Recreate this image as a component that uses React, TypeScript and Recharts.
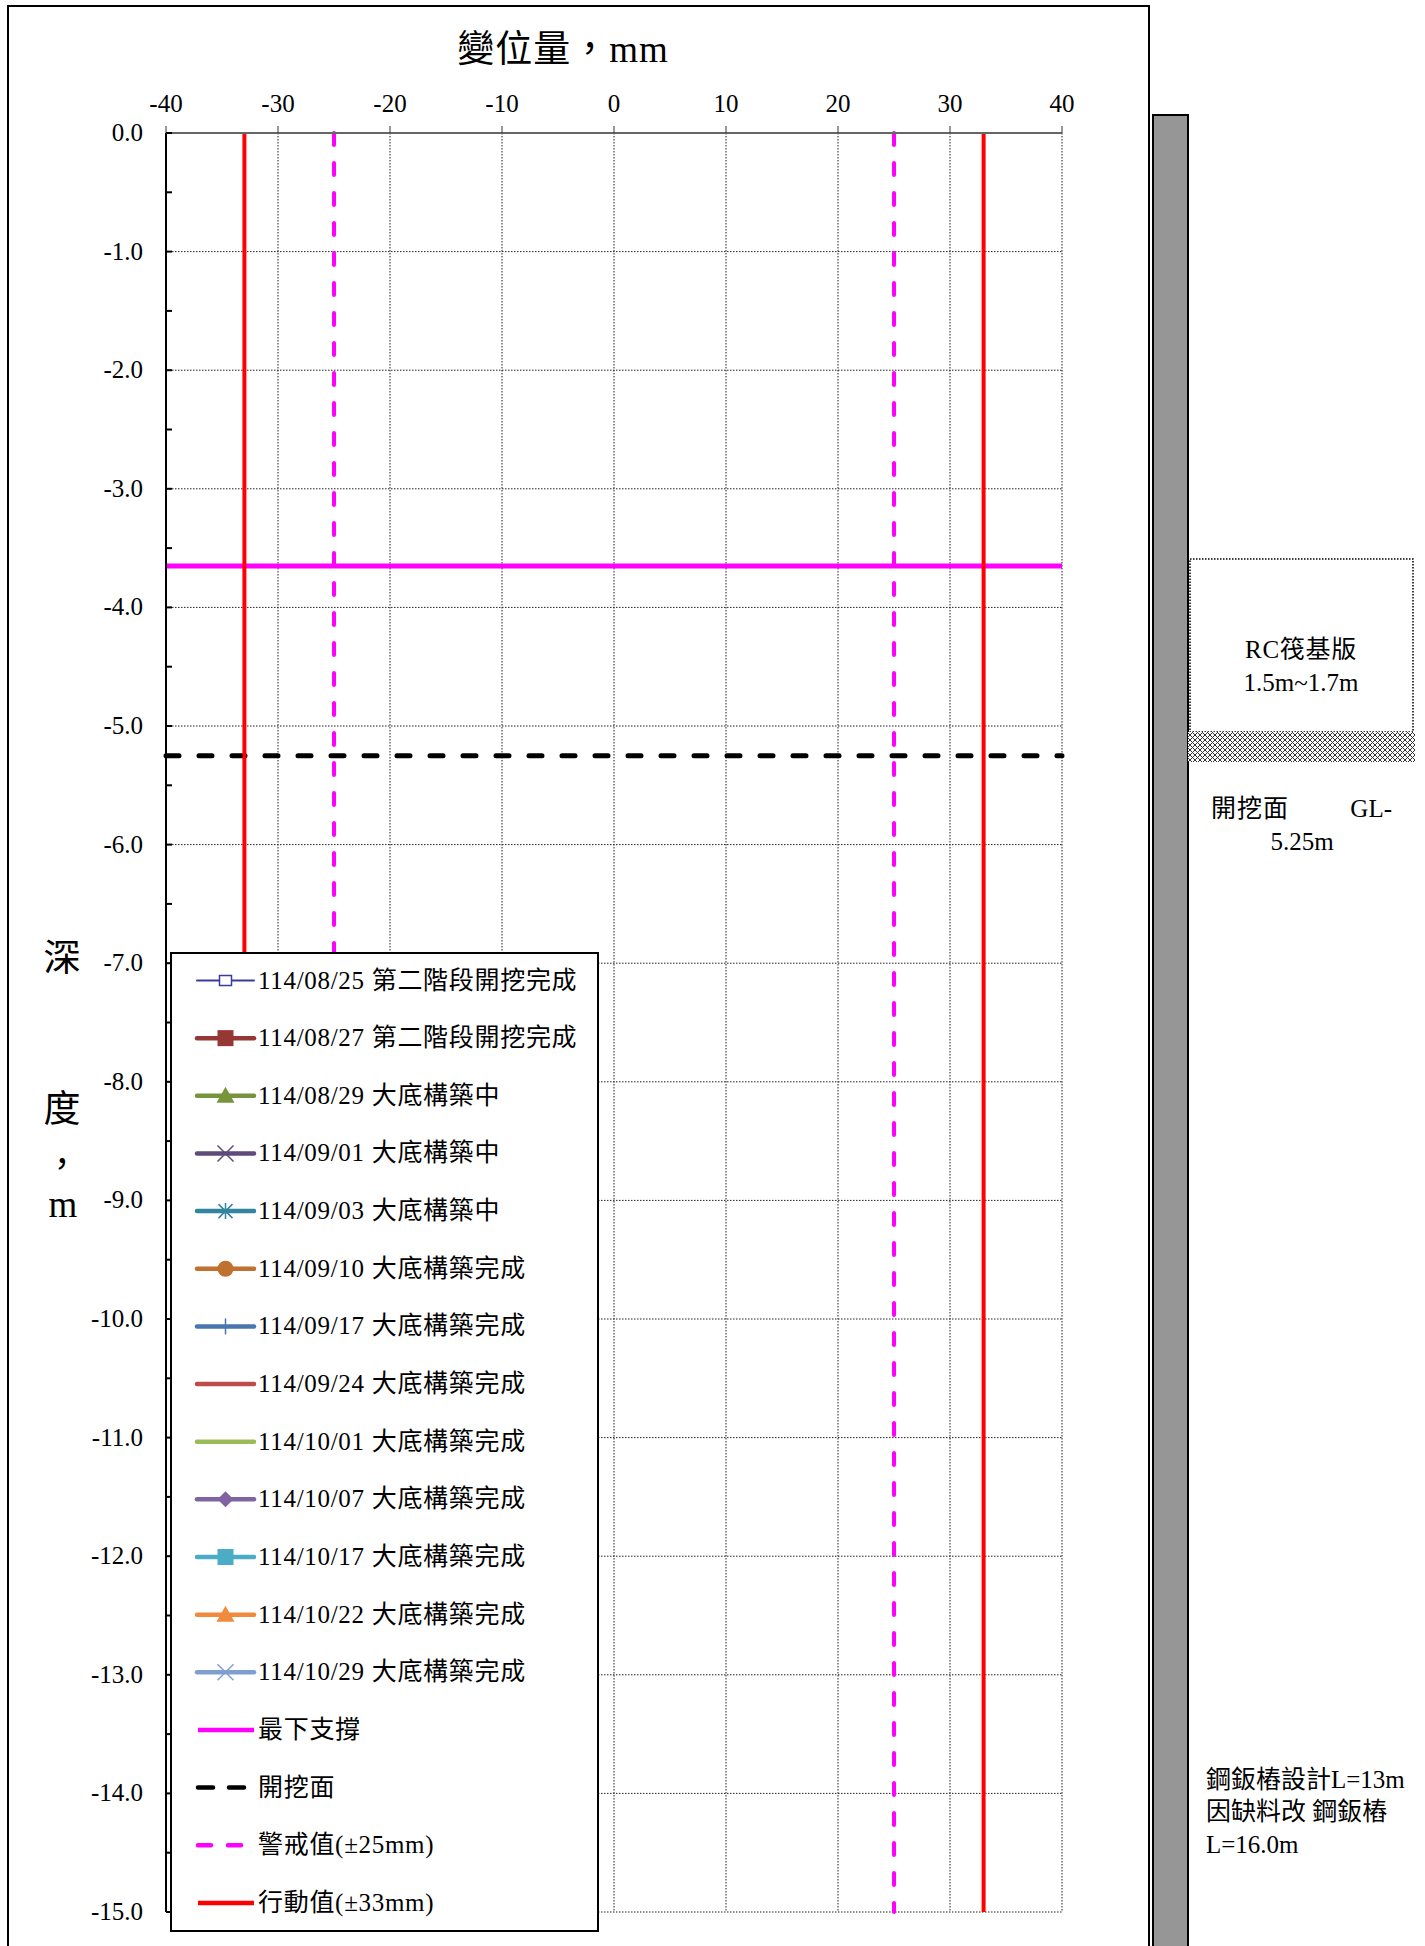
import React from "react";
import {
  ComposedChart,
  Line,
  XAxis,
  YAxis,
  CartesianGrid,
  ReferenceLine,
} from "recharts";

const SERIF = "'Liberation Serif', 'Noto Sans CJK TC', serif";

// displacement axis (mm)
const DISP_TICKS = [-40, -30, -20, -10, 0, 10, 20, 30, 40];
// depth axis (m): labelled every metre, ticked every half metre
const DEPTH_TICKS = [
  0, -0.5, -1, -1.5, -2, -2.5, -3, -3.5, -4, -4.5, -5, -5.5, -6, -6.5, -7, -7.5,
  -8, -8.5, -9, -9.5, -10, -10.5, -11, -11.5, -12, -12.5, -13, -13.5, -14, -14.5, -15,
];
const DEPTH_GRID = [0, -1, -2, -3, -4, -5, -6, -7, -8, -9, -10, -11, -12, -13, -14, -15];

// limits and levels
const ALERT_LIMITS = [-25, 25];
const ACTION_LIMITS = [-33, 33];
const LOWEST_STRUT_DEPTH = -3.65;
const EXCAVATION_DEPTH = -5.25;

const SURVEY_LABELS = [
  "114/08/25 第二階段開挖完成",
  "114/08/27 第二階段開挖完成",
  "114/08/29 大底構築中",
  "114/09/01 大底構築中",
  "114/09/03 大底構築中",
  "114/09/10 大底構築完成",
  "114/09/17 大底構築完成",
  "114/09/24 大底構築完成",
  "114/10/01 大底構築完成",
  "114/10/07 大底構築完成",
  "114/10/17 大底構築完成",
  "114/10/22 大底構築完成",
  "114/10/29 大底構築完成",
];

// no readings are plotted on this sheet
const SURVEY_READINGS: { disp: number; depth: number }[][] = [
  [], [], [], [], [], [], [], [], [], [], [], [], [],
];

const LIMIT_LABELS = ["最下支撐", "開挖面", "警戒值(±25mm)", "行動值(±33mm)"];

const SURVEY_COLORS = [
  "#383D9C", "#953735", "#77933C", "#604A7B", "#31859C", "#C0702F", "#4A76B0",
  "#BE4B48", "#9BBB59", "#8064A2", "#4BACC6", "#F08A3E", "#7F9FD0",
];
const SURVEY_MARKERS = [
  "openSquare", "square", "triangle", "x", "star", "circle", "plus",
  "none", "none", "diamond", "square", "triangle", "x",
];
const SURVEY_WIDTHS = [2, 4.5, 4.5, 4.5, 4.5, 4.5, 4.5, 4.5, 4.5, 4.5, 4.5, 4.5, 4.5];

function DepthTick(props: any) {
  const { x, y, payload } = props;
  const v = payload.value as number;
  const axisX = x + 23;
  const whole = Math.abs(v % 1) < 1e-9;
  return (
    <g>
      <line x1={axisX} x2={axisX + 6} y1={y} y2={y} stroke="#000" strokeWidth={2} />
      {whole && (
        <text x={x} y={y} dy={8} textAnchor="end" fontSize={25} fill="#000" fontFamily={SERIF}>
          {v.toFixed(1)}
        </text>
      )}
    </g>
  );
}

function Marker({ kind, color, cx, cy }: { kind: string; color: string; cx: number; cy: number }) {
  switch (kind) {
    case "openSquare":
      return <rect x={cx - 6} y={cy - 5} width={12} height={10} fill="#fff" stroke={color} strokeWidth={1.5} />;
    case "square":
      return <rect x={cx - 8} y={cy - 8} width={16} height={16} fill={color} />;
    case "triangle":
      return <polygon points={`${cx},${cy - 9} ${cx + 9},${cy + 7} ${cx - 9},${cy + 7}`} fill={color} />;
    case "x":
      return (
        <path d={`M${cx - 8},${cy - 8}L${cx + 8},${cy + 8}M${cx + 8},${cy - 8}L${cx - 8},${cy + 8}`} stroke={color} strokeWidth={1.5} />
      );
    case "star":
      return (
        <path
          d={`M${cx - 7},${cy - 7}L${cx + 7},${cy + 7}M${cx + 7},${cy - 7}L${cx - 7},${cy + 7}M${cx},${cy - 8}L${cx},${cy + 8}`}
          stroke={color}
          strokeWidth={1.5}
        />
      );
    case "circle":
      return <circle cx={cx} cy={cy} r={8} fill={color} />;
    case "plus":
      return <path d={`M${cx},${cy - 8}L${cx},${cy + 8}`} stroke={color} strokeWidth={1.5} />;
    case "diamond":
      return <polygon points={`${cx},${cy - 8} ${cx + 8},${cy} ${cx},${cy + 8} ${cx - 8},${cy}`} fill={color} />;
    default:
      return null;
  }
}

function LegendBox() {
  const top = 980.5;
  const step = 57.65;
  const x1 = 197;
  const x2 = 254;
  const rows: React.ReactNode[] = [];
  SURVEY_LABELS.forEach((label, i) => {
    const cy = top + i * step;
    const color = SURVEY_COLORS[i];
    rows.push(
      <g key={label}>
        <line x1={x1} x2={x2} y1={cy} y2={cy} stroke={color} strokeWidth={SURVEY_WIDTHS[i]} strokeLinecap="round" />
        <Marker kind={SURVEY_MARKERS[i]} color={color} cx={(x1 + x2) / 2} cy={cy} />
        <text x={258} y={cy + 8} fontSize={25} fontFamily={SERIF} fill="#000" letterSpacing={0.7}>
          {label}
        </text>
      </g>
    );
  });
  const limitStyles = [
    { stroke: "#FF00FF", dash: undefined },
    { stroke: "#000000", dash: "15 16" },
    { stroke: "#FF00FF", dash: "13 17" },
    { stroke: "#FF0000", dash: undefined },
  ];
  LIMIT_LABELS.forEach((label, j) => {
    const cy = top + (SURVEY_LABELS.length + j) * step;
    const s = limitStyles[j];
    rows.push(
      <g key={label}>
        <line
          x1={x1 + 1}
          x2={x2}
          y1={cy}
          y2={cy}
          stroke={s.stroke}
          strokeWidth={4.5}
          strokeDasharray={s.dash}
          strokeLinecap={s.dash ? "round" : "butt"}
        />
        <text x={258} y={cy + 8} fontSize={25} fontFamily={SERIF} fill="#000" letterSpacing={0.7}>
          {label}
        </text>
      </g>
    );
  });
  return (
    <g>
      <rect x={171} y={953} width={427} height={978} fill="#fff" stroke="#000" strokeWidth={2} />
      {rows}
    </g>
  );
}

export default function App() {
  return (
    <div style={{ position: "absolute", left: 0, top: 0, width: 1425, height: 1946, overflow: "hidden", background: "#fff" }}>
      <div style={{ position: "absolute", left: 0, top: 0 }}>
        <ComposedChart width={1150} height={1946} margin={{ top: 93, right: 88, bottom: 34, left: 86 }}>
          <CartesianGrid
            verticalValues={DISP_TICKS}
            horizontalValues={DEPTH_GRID}
            stroke="#222"
            strokeDasharray="1.5 1.5"
          />
          <XAxis
            type="number"
            dataKey="disp"
            orientation="top"
            domain={[-40, 40]}
            ticks={DISP_TICKS}
            interval={0}
            height={40}
            tickSize={7}
            tickMargin={14}
            tickLine={{ stroke: "#333", strokeWidth: 1 }}
            axisLine={{ stroke: "#666", strokeWidth: 2 }}
            tick={{ fontSize: 25, fill: "#000", fontFamily: SERIF }}
            allowDataOverflow
          />
          <YAxis
            type="number"
            dataKey="depth"
            domain={[-15, 0]}
            ticks={DEPTH_TICKS}
            interval={0}
            width={80}
            tickSize={0}
            tickMargin={23}
            tickLine={false}
            tick={<DepthTick />}
            axisLine={{ stroke: "#000", strokeWidth: 2 }}
            allowDataOverflow
          />
          <ReferenceLine y={LOWEST_STRUT_DEPTH} stroke="#FF00FF" strokeWidth={5} />
          <ReferenceLine
            y={EXCAVATION_DEPTH}
            stroke="#000"
            strokeWidth={5}
            strokeDasharray="13 20"
            strokeLinecap="round"
          />
          {ALERT_LIMITS.map((v) => (
            <ReferenceLine
              key={`alert${v}`}
              x={v}
              stroke="#FF00FF"
              strokeWidth={4}
              strokeDasharray="12 18"
              strokeLinecap="round"
            />
          ))}
          {ACTION_LIMITS.map((v) => (
            <ReferenceLine key={`action${v}`} x={v} stroke="#FF0000" strokeWidth={4} />
          ))}
          {SURVEY_READINGS.map((pts, i) => (
            <Line
              key={SURVEY_LABELS[i]}
              data={pts}
              dataKey="depth"
              name={SURVEY_LABELS[i]}
              stroke={SURVEY_COLORS[i]}
              strokeWidth={SURVEY_WIDTHS[i]}
              dot={false}
              isAnimationActive={false}
            />
          ))}
        </ComposedChart>
      </div>
      <svg
        width={1425}
        height={1946}
        style={{ position: "absolute", left: 0, top: 0, pointerEvents: "none" }}
        fontFamily={SERIF}
      >
        <defs>
          <pattern id="hatch" width={5} height={5} patternUnits="userSpaceOnUse">
            <rect width={5} height={5} fill="#fff" />
            <path d="M0,0L5,5M5,0L0,5" stroke="#333" strokeWidth={1} />
          </pattern>
        </defs>
        {/* chart frame */}
        <path d="M8,1960V6H1149V1960" fill="none" stroke="#000" strokeWidth={2} />
        {/* titles */}
        <text x={563} y={62} fontSize={37} textAnchor="middle" fill="#000" letterSpacing={1}>
          變位量，mm
        </text>
        <g fontSize={37} textAnchor="middle" fill="#000">
          <text x={62} y={971}>深</text>
          <text x={62} y={1122}>度</text>
          <text x={62} y={1176} fontSize={34} fontFamily="'Noto Sans CJK TC'">，</text>
          <text x={63} y={1217}>m</text>
        </g>
        <LegendBox />
        {/* wall section sketch */}
        <rect x={1153} y={115} width={35} height={1850} fill="#969696" stroke="#000" strokeWidth={2} />
        <rect x={1190} y={559} width={223} height={173} fill="#fff" stroke="#000" strokeWidth={1.5} strokeDasharray="1.5 1.5" />
        <rect x={1188} y={732} width={227} height={30} fill="url(#hatch)" />
        <g fontSize={25} fill="#000">
          <text x={1301} y={658} textAnchor="middle" letterSpacing={0.7}>RC筏基版</text>
          <text x={1301} y={691} textAnchor="middle">1.5m~1.7m</text>
          <text x={1211} y={817} letterSpacing={1}>開挖面</text>
          <text x={1392} y={817} textAnchor="end">GL-</text>
          <text x={1302} y={850} textAnchor="middle">5.25m</text>
          <text x={1206} y={1788}>鋼鈑樁設計L=13m</text>
          <text x={1206} y={1820}>因缺料改 鋼鈑樁</text>
          <text x={1206} y={1853}>L=16.0m</text>
        </g>
      </svg>
    </div>
  );
}
